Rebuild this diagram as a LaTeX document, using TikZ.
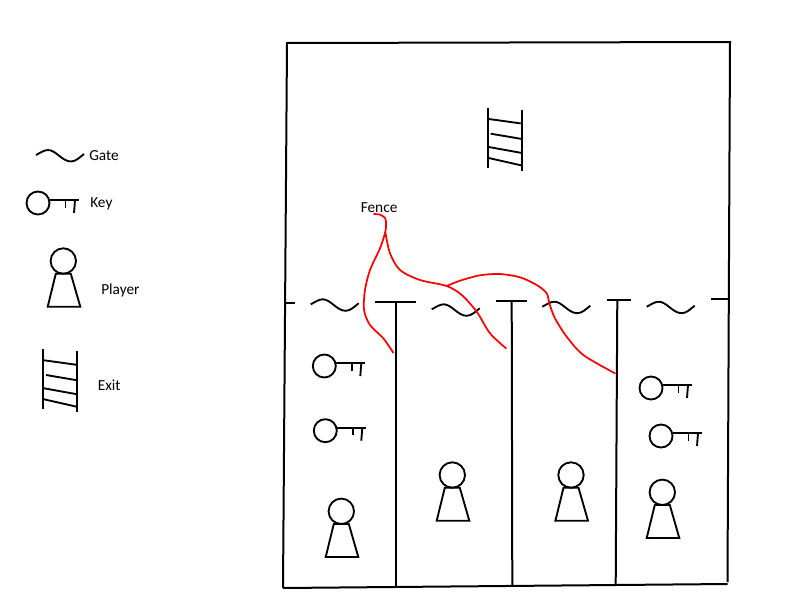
\documentclass[tikz,border=0pt]{standalone}
\usepackage{fontspec}
\setmainfont{Carlito}
\usetikzlibrary{positioning}

\begin{document}
\begin{tikzpicture}[
    x=0.75pt, y=-0.75pt,
    wall/.style={line width=1.5pt},
    icon/.style={line width=1.4pt},
    fence/.style={red, line width=1.3pt, line cap=round, line join=round},
    lbl/.style={font=\fontsize{11.5}{13}\selectfont, inner sep=0pt, anchor=west},
    keyicon/.pic={
      \draw[icon] (0,0) circle (11.5);
      \draw[icon] (11.5,-3) -- (41,-3);
      \draw[icon] (27.5,-3) -- (27.5,4.5);
      \draw[icon] (37,-3) -- (36,10);
    },
    playericon/.pic={
      \draw[icon] (0,0) circle (12.7);
      \draw[icon] (-7.5,12.7) -- (7.5,12.7) -- (17,45.7) -- (-15.6,45.7) -- cycle;
    },
    ladder/.pic={
      \draw[icon] (0,0) -- (0,60);
      \draw[icon] (34,2) -- (34,63);
      \draw[icon] (0.7,11) -- (32.7,15.4);
      \draw[icon] (2.7,25.7) -- (34,31);
      \draw[icon] (0.7,39) -- (34,45);
      \draw[icon] (0.7,50) -- (33.4,57.4);
    },
    gate/.pic={
      \draw[icon] (0,0) .. controls (4,-2) and (8,-5) .. (12,-5)
        .. controls (20,-5) and (26,6.5) .. (35,6.5)
        .. controls (40,6.5) and (44,2) .. (48,-1);
    },
  ]
  \useasboundingbox (0,0) rectangle (800,600);

  % legend
  \pic at (36,155) {gate};
  \node[lbl] (lgate) at (89,155.5) {Gate};
  \pic at (38,203) {keyicon};
  \node[lbl] (lkey) at (90,203.5) {Key};
  \pic at (63.3,261) {playericon};
  \node[lbl] (lplayer) at (101,290.5) {Player};
  \pic at (43.3,349.3) {ladder};
  \node[lbl] (lexit) at (97.5,385.5) {Exit};

  % outer walls
  \draw[wall] (283,588) -- (287,43) -- (730,42) -- (727.5,582);
  \draw[wall] (283,588) -- (727.5,584);

  % partitions
  \draw[wall] (375,301.7) -- (416,301.7);
  \draw[wall] (395.7,301.7) -- (395.7,588);
  \draw[wall] (496,300.7) -- (526.7,300.7);
  \draw[wall] (511.7,300.7) -- (512.3,586);
  \draw[wall] (607.3,299.7) -- (630.7,299.7);
  \draw[wall] (617.3,299.7) -- (615.7,585);
  \draw[wall] (284,302.7) -- (295,302.7);
  \draw[wall] (711,299) -- (728.3,299);

  % gates
  \pic at (310.7,304.3) {gate};
  \pic at (431.7,309.3) {gate};
  \pic at (542.3,306.7) {gate};
  \pic at (646.7,306.7) {gate};

  % keys
  \pic at (324.3,366) {keyicon};
  \pic at (325.3,430.7) {keyicon};
  \pic at (651,388) {keyicon};
  \pic at (661,436) {keyicon};

  % players
  \pic at (341.3,511.3) {playericon};
  \pic at (452.3,475) {playericon};
  \pic at (571,475) {playericon};
  \pic at (662.3,492.3) {playericon};

  % exit
  \pic at (488,108) {ladder};

  % fence
  \node[lbl] (lfence) at (360.5,207.5) {Fence};
  \coordinate (fork) at (385.3,232);
  \coordinate (join) at (446.7,286);
  \draw[fence] plot[smooth] coordinates {(374,214) (380,214.7) (385.3,218.3) (386,225) (fork) (380,248.3) (370,270) (365,290) (364,310) (370,325) (383.3,338.3) (393.3,352.7)};
  \draw[fence] plot[smooth] coordinates {(fork) (390,253.3) (400,270) (420,280) (join) (461.7,295) (476.7,311.7) (490,333.3) (506,348.3)};
  \draw[fence] plot[smooth] coordinates {(join) (460,280.7) (480,275.3) (500,274) (520,277.3) (536.7,285) (546.7,293.3) (549.3,303.3) (555,318.3) (566.7,336.7) (583.3,355) (615,373.3)};
\end{tikzpicture}
\end{document}
